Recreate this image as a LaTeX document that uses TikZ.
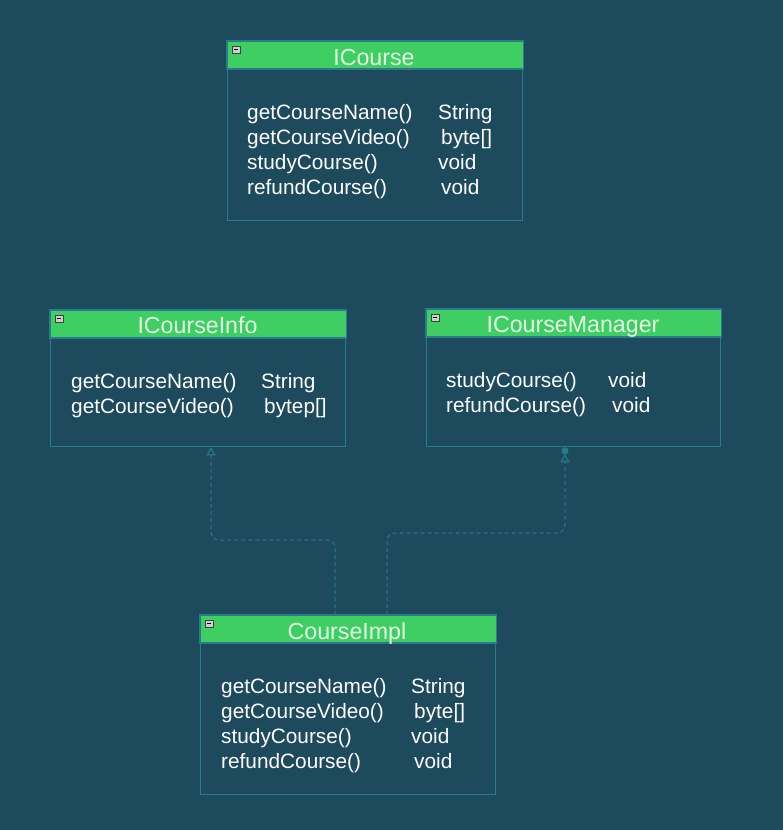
\documentclass[tikz,border=0pt]{standalone}
\usepackage{fontspec}
\setmainfont{Liberation Sans}
\usetikzlibrary{arrows.meta}
\definecolor{bg}{RGB}{30,74,94}
\definecolor{hdr}{RGB}{62,206,98}
\definecolor{edge}{RGB}{42,124,140}
\definecolor{titletxt}{RGB}{228,255,230}
\definecolor{iconfill}{RGB}{205,205,205}
\tikzset{
  classbox/.style={draw=edge, line width=1.3pt, fill=bg, anchor=north west, inner sep=0pt},
  header/.style={fill=hdr, draw=edge, line width=1.3pt},
  title/.style={text=titletxt, anchor=base, inner sep=0pt, font=\fontsize{23.2}{26}\selectfont},
  member/.style={text=white, anchor=base west, inner sep=0pt, font=\fontsize{20.8}{24}\selectfont},
  dep/.style={draw=edge, line width=1pt, dash pattern=on 4pt off 3pt, rounded corners=8pt},
  icon/.style={fill=iconfill, draw=gray!50!black, line width=0.5pt}
}
\newcommand{\umlclass}[5]{%
  % #1 name, #2 left x, #3 top y, #4 width, #5 height
  \node[classbox, minimum width=#4pt, minimum height=#5pt] (#1) at (#2,#3) {};
  \draw[header] (#1.north west) rectangle ([yshift=-28pt]#1.north east);
  \draw[icon] ([xshift=5pt,yshift=-5pt]#1.north west) rectangle ([xshift=13pt,yshift=-12pt]#1.north west);
  \draw[black, line width=0.9pt] ([xshift=6.8pt,yshift=-8.5pt]#1.north west) -- ([xshift=11.2pt,yshift=-8.5pt]#1.north west);
}
\begin{document}
\begin{tikzpicture}[x=1pt, y=-1pt]
\fill[bg] (0,0) rectangle (783,830);
\useasboundingbox (0,0) rectangle (783,830);

% ICourse
\umlclass{course}{227}{41}{295}{179}
\node[title] (courseT) at (374,65) {ICourse};
\node[member] (c1) at (247,119) {getCourseName()};
\node[member] (c2) at (247,144) {getCourseVideo()};
\node[member] (c3) at (247,169) {studyCourse()};
\node[member] (c4) at (247,194) {refundCourse()};
\node[member] (c1t) at (438,119) {String};
\node[member] (c2t) at (441,144) {byte[]};
\node[member] (c3t) at (438,169) {void};
\node[member] (c4t) at (441,194) {void};

% ICourseInfo
\umlclass{info}{50}{310}{295}{136}
\node[title] (infoT) at (197.5,333.5) {ICourseInfo};
\node[member] (i1) at (71,388) {getCourseName()};
\node[member] (i2) at (71,413) {getCourseVideo()};
\node[member] (i1t) at (261,388) {String};
\node[member] (i2t) at (264,413) {bytep[]};

% ICourseManager
\umlclass{mgr}{426}{309}{294}{137}
\node[title] (mgrT) at (573,332.5) {ICourseManager};
\node[member] (m1) at (446,387) {studyCourse()};
\node[member] (m2) at (446,412) {refundCourse()};
\node[member] (m1t) at (608,387) {void};
\node[member] (m2t) at (612,412) {void};

% CourseImpl
\umlclass{impl}{200}{615}{295}{179}
\node[title] (implT) at (347,639) {CourseImpl};
\node[member] (p1) at (221,693.5) {getCourseName()};
\node[member] (p2) at (221,718.5) {getCourseVideo()};
\node[member] (p3) at (221,743.5) {studyCourse()};
\node[member] (p4) at (221,768.5) {refundCourse()};
\node[member] (p1t) at (411,693.5) {String};
\node[member] (p2t) at (414,718.5) {byte[]};
\node[member] (p3t) at (411,743.5) {void};
\node[member] (p4t) at (414,768.5) {void};

% realisation connectors
\coordinate (lbend) at (211,540);
\coordinate (rbend) at (565,533);
\draw[dep, -{Triangle[open, length=8pt, width=9pt]}]
  (impl.north -| 335,0) |- (lbend) -- (info.south -| lbend);
\draw[dep, -{Triangle[open, length=8pt, width=9pt] Circle[length=7pt]}]
  (impl.north -| 387,0) |- (rbend) -- (mgr.south -| rbend);
\end{tikzpicture}
\end{document}
